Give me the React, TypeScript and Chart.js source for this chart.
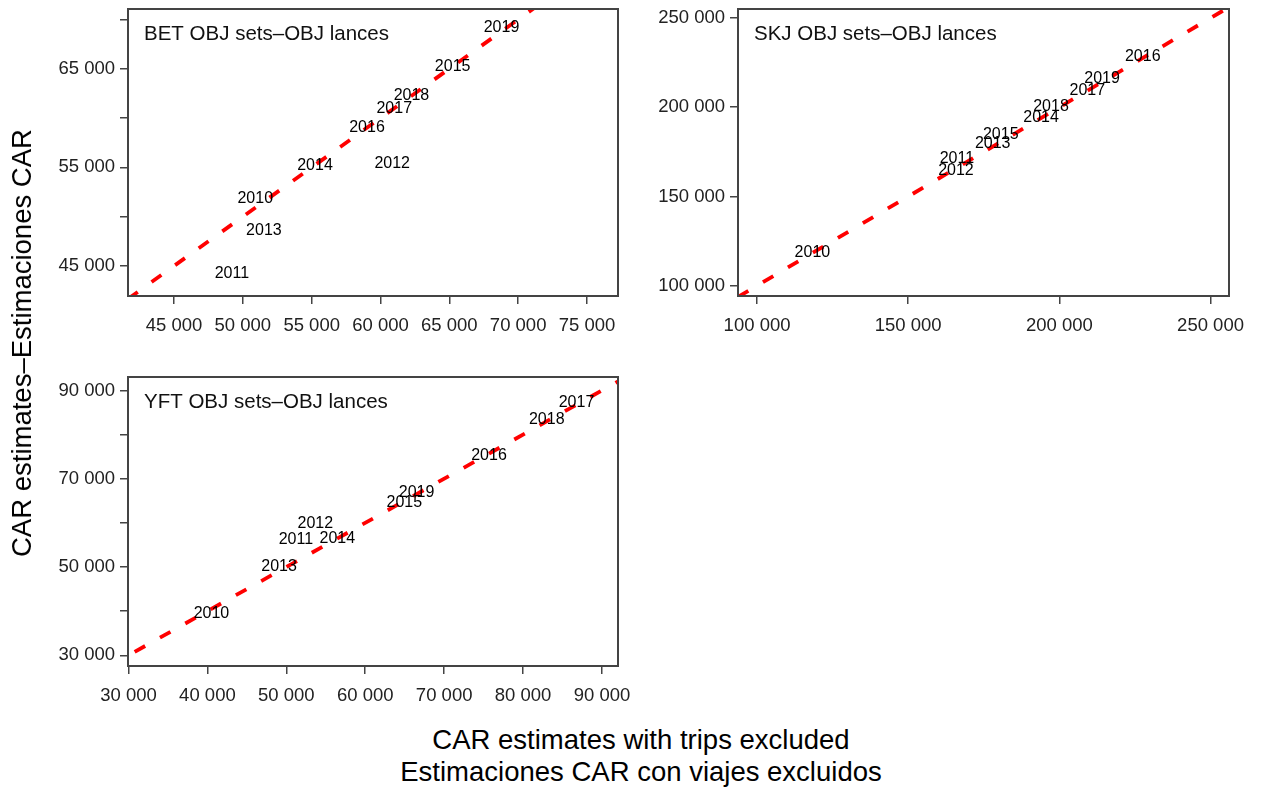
import React, { useEffect, useRef } from "react";
import { Chart, registerables } from "chart.js";

Chart.register(...registerables);

const YEARS = ["2010", "2011", "2012", "2013", "2014", "2015", "2016", "2017", "2018", "2019"];

const BET_X = [50900, 49200, 60850, 51530, 55240, 65240, 59020, 61000, 62250, 68790];
const BET_Y = [51820, 44260, 55370, 48600, 55200, 65240, 59040, 60970, 62260, 69130];

const SKJ_X = [118300, 166080, 165780, 177950, 193930, 180600, 227570, 209240, 197230, 214120];
const SKJ_Y = [118550, 171000, 164540, 179460, 194200, 184500, 228120, 209160, 200370, 215900];

const YFT_X = [40510, 51210, 53680, 49080, 56460, 64950, 75680, 86770, 83000, 66500];
const YFT_Y = [39370, 56320, 59780, 50000, 56470, 64580, 75290, 87350, 83500, 66760];

const BET_X_TICKS = [45000, 50000, 55000, 60000, 65000, 70000, 75000];
const BET_Y_TICKS = [45000, 50000, 55000, 60000, 65000, 70000];
const BET_Y_LABELED = [45000, 55000, 65000];

const SKJ_X_TICKS = [100000, 150000, 200000, 250000];
const SKJ_Y_TICKS = [100000, 150000, 200000, 250000];
const SKJ_Y_LABELED = [100000, 150000, 200000, 250000];

const YFT_X_TICKS = [30000, 40000, 50000, 60000, 70000, 80000, 90000];
const YFT_Y_TICKS = [30000, 40000, 50000, 60000, 70000, 80000, 90000];
const YFT_Y_LABELED = [30000, 50000, 70000, 90000];

const BET_TITLE = "BET OBJ sets\u2013OBJ lances";
const SKJ_TITLE = "SKJ OBJ sets\u2013OBJ lances";
const YFT_TITLE = "YFT OBJ sets\u2013OBJ lances";

const X_TITLE_1 = "CAR estimates with trips excluded";
const X_TITLE_2 = "Estimaciones CAR con viajes excluidos";
const Y_TITLE = "CAR estimates\u2013Estimaciones CAR";

const FONT = "'Liberation Sans', Arial, Helvetica, sans-serif";
const AXIS_COLOR = "#444444";

function fmt(v: number): string {
  return String(Math.round(v)).replace(/\B(?=(\d{3})+(?!\d))/g, " ");
}

type PanelProps = {
  left: number;
  top: number;
  width: number;
  height: number;
  padTop: number;
  padRight: number;
  xs: number[];
  ys: number[];
  xMin: number;
  xMax: number;
  yMin: number;
  yMax: number;
  xTicks: number[];
  yTicks: number[];
  yLabeled: number[];
  title: string;
};

function Panel(p: PanelProps) {
  const ref = useRef<HTMLCanvasElement | null>(null);
  useEffect(() => {
    if (!ref.current) return;
    const lo = Math.min(p.xMin, p.yMin);
    const hi = Math.max(p.xMax, p.yMax);
    const points = p.xs.map((x, i) => ({ x, y: p.ys[i] }));

    const boxPlugin = {
      id: "boxAndLabels",
      afterDatasetsDraw(chart: any) {
        const { ctx, chartArea } = chart;
        ctx.save();
        const meta = chart.getDatasetMeta(1);
        ctx.fillStyle = "#000";
        ctx.font = `16px ${FONT}`;
        ctx.textAlign = "center";
        ctx.textBaseline = "middle";
        meta.data.forEach((el: any, i: number) => {
          ctx.fillText(YEARS[i], el.x, el.y);
        });
        ctx.font = `20.5px ${FONT}`;
        ctx.textAlign = "left";
        ctx.fillStyle = "#111";
        ctx.fillText(p.title, chartArea.left + 16, chartArea.top + 25.5);
        ctx.strokeStyle = AXIS_COLOR;
        ctx.lineWidth = 2;
        ctx.setLineDash([]);
        ctx.strokeRect(
          chartArea.left,
          chartArea.top,
          chartArea.right - chartArea.left,
          chartArea.bottom - chartArea.top
        );
        ctx.restore();
      },
    };

    const chart = new Chart(ref.current, {
      type: "scatter",
      data: {
        datasets: [
          {
            type: "line",
            data: [
              { x: lo, y: lo },
              { x: hi, y: hi },
            ],
            borderColor: "#ff0000",
            borderWidth: 3.8,
            borderDash: [12, 17],
            borderCapStyle: "butt",
            pointRadius: 0,
            fill: false,
            clip: 0,
          } as any,
          {
            data: points,
            pointRadius: 0,
            pointHoverRadius: 0,
            showLine: false,
          } as any,
        ],
      },
      options: {
        responsive: false,
        animation: false,
        devicePixelRatio: 1,
        events: [],
        layout: { padding: { left: 0, right: p.padRight, top: p.padTop, bottom: 0 } },
        plugins: { legend: { display: false }, tooltip: { enabled: false } },
        scales: {
          x: {
            type: "linear",
            min: p.xMin,
            max: p.xMax,
            afterBuildTicks: (s: any) => {
              s.ticks = p.xTicks.map((v) => ({ value: v }));
            },
            afterFit: (s: any) => {
              s.height = 44;
              s.paddingLeft = 0;
              s.paddingRight = 0;
            },
            grid: {
              display: true,
              drawOnChartArea: false,
              drawTicks: true,
              tickLength: 8,
              color: AXIS_COLOR,
              lineWidth: 1.5,
            },
            border: { display: true, color: AXIS_COLOR, width: 2 },
            ticks: {
              autoSkip: false,
              maxRotation: 0,
              minRotation: 0,
              padding: 11,
              color: "#222",
              font: { family: FONT, size: 18.5 },
              callback: (v: any) => fmt(Number(v)),
            },
          },
          y: {
            type: "linear",
            min: p.yMin,
            max: p.yMax,
            afterBuildTicks: (s: any) => {
              s.ticks = p.yTicks.map((v) => ({ value: v }));
            },
            afterFit: (s: any) => {
              s.width = 128;
              s.paddingTop = 0;
              s.paddingBottom = 0;
            },
            grid: {
              display: true,
              drawOnChartArea: false,
              drawTicks: true,
              tickLength: 8,
              color: AXIS_COLOR,
              lineWidth: 1.5,
            },
            border: { display: true, color: AXIS_COLOR, width: 2 },
            ticks: {
              autoSkip: false,
              padding: 5,
              color: "#222",
              font: { family: FONT, size: 18.5 },
              callback: (v: any) => (p.yLabeled.includes(Number(v)) ? fmt(Number(v)) : ""),
            },
          },
        },
      } as any,
      plugins: [boxPlugin],
    });
    return () => chart.destroy();
  }, []);

  return (
    <canvas
      ref={ref}
      width={p.width}
      height={p.height}
      style={{
        position: "absolute",
        left: p.left,
        top: p.top,
        width: p.width,
        height: p.height,
      }}
    />
  );
}

export default function App() {
  return (
    <div
      style={{
        position: "fixed",
        left: 0,
        top: 0,
        width: 1266,
        height: 789,
        background: "#ffffff",
        overflow: "hidden",
        fontFamily: FONT,
      }}
    >
      <Panel
        left={0}
        top={0}
        width={640}
        height={340}
        padTop={9}
        padRight={22}
        xs={BET_X}
        ys={BET_Y}
        xMin={41657}
        xMax={77253}
        yMin={41954}
        yMax={71061}
        xTicks={BET_X_TICKS}
        yTicks={BET_Y_TICKS}
        yLabeled={BET_Y_LABELED}
        title={BET_TITLE}
      />
      <Panel
        left={610}
        top={0}
        width={656}
        height={340}
        padTop={9}
        padRight={37}
        xs={SKJ_X}
        ys={SKJ_Y}
        xMin={93696}
        xMax={256105}
        yMin={94220}
        yMax={255050}
        xTicks={SKJ_X_TICKS}
        yTicks={SKJ_Y_TICKS}
        yLabeled={SKJ_Y_LABELED}
        title={SKJ_TITLE}
      />
      <Panel
        left={0}
        top={340}
        width={640}
        height={370}
        padTop={37}
        padRight={22}
        xs={YFT_X}
        ys={YFT_Y}
        xMin={29937}
        xMax={92028}
        yMin={27574}
        yMax={93039}
        xTicks={YFT_X_TICKS}
        yTicks={YFT_Y_TICKS}
        yLabeled={YFT_Y_LABELED}
        title={YFT_TITLE}
      />
      <div
        style={{
          position: "absolute",
          left: 641,
          top: 724,
          transform: "translateX(-50%)",
          textAlign: "center",
          whiteSpace: "nowrap",
          fontSize: 27.5,
          lineHeight: "32px",
          color: "#000",
        }}
      >
        <div>{X_TITLE_1}</div>
        <div>{X_TITLE_2}</div>
      </div>
      <div
        style={{
          position: "absolute",
          left: 22,
          top: 343,
          transform: "translate(-50%, -50%) rotate(-90deg)",
          whiteSpace: "nowrap",
          fontSize: 27.5,
          lineHeight: "32px",
          color: "#000",
        }}
      >
        {Y_TITLE}
      </div>
    </div>
  );
}
